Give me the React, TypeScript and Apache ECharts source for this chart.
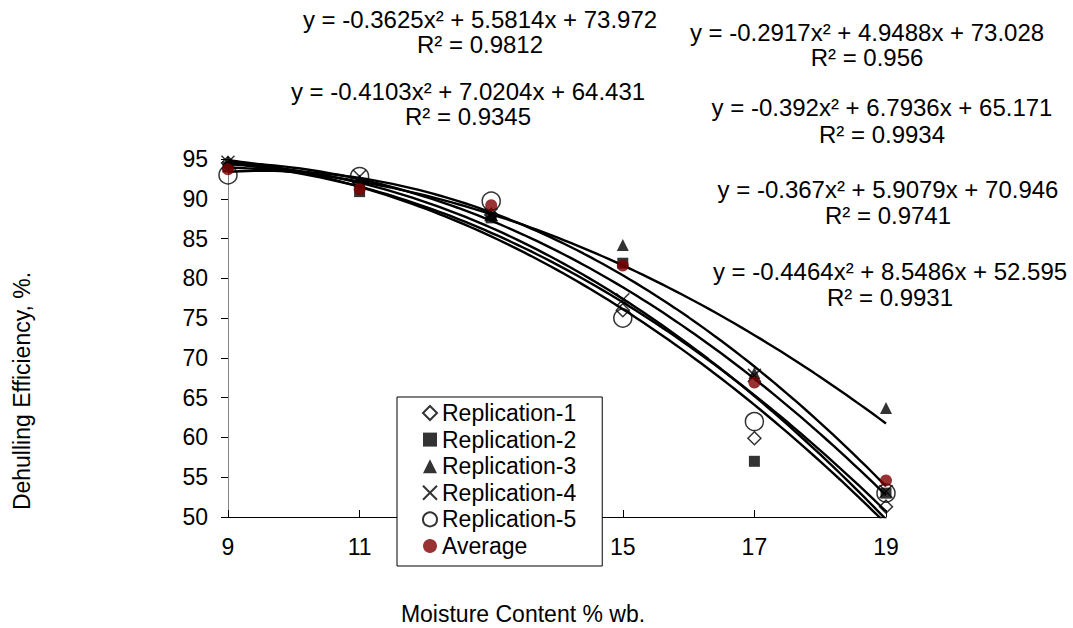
import React, { useEffect, useRef } from "react";
import * as echarts from "echarts";

// ---- Data ----
const X_VALUES = [9, 11, 13, 15, 17, 19];
const REPLICATION_1 = [94.5, 92.0, 88.0, 76.0, 59.9, 51.3];
const REPLICATION_2 = [94.0, 90.9, 87.6, 81.9, 57.0, 53.0];
const REPLICATION_3 = [94.7, 92.3, 88.0, 84.2, 68.1, 63.7];
const REPLICATION_4 = [94.6, 92.8, 88.0, 77.3, 67.8, 53.2];
const REPLICATION_5 = [93.0, 92.8, 89.7, 75.0, 62.0, 53.0];
const AVERAGE = [93.7, 91.2, 89.2, 81.6, 66.9, 54.6];

const SERIES_NAMES = ["Replication-1", "Replication-2", "Replication-3", "Replication-4", "Replication-5", "Average"];

// Quadratic trendline coefficients [a, b, c] : y = a x^2 + b x + c
const TREND_1 = [-0.3625, 5.5814, 73.972];
const TREND_2 = [-0.2917, 4.9488, 73.028];
const TREND_3 = [-0.4103, 7.0204, 64.431];
const TREND_4 = [-0.392, 6.7936, 65.171];
const TREND_5 = [-0.367, 5.9079, 70.946];
const TREND_6 = [-0.4464, 8.5486, 52.595];
const TRENDS = [TREND_1, TREND_2, TREND_3, TREND_4, TREND_5, TREND_6];
const R_SQUARED = ["0.9812", "0.956", "0.9345", "0.9934", "0.9741", "0.9931"];

const X_TICKS = [9, 11, 13, 15, 17, 19];
// "13" is hidden behind the legend box in the reference
const X_TICK_LABELS = [9, 11, 15, 17, 19];
const Y_MIN = 50;
const Y_MAX = 95;
const Y_STEP = 5;

// ---- Layout (label positions) ----
const EQ_POS = [
  [480, 19, 44],
  [867, 32, 57],
  [468, 91, 116],
  [882, 107, 134],
  [888, 189, 215],
  [890, 271, 297],
];

const FONT = "'Liberation Sans', Arial, sans-serif";
const X_PATH = "path://M0,0L10,10M10,0L0,10";

function trendPoints(coef: number[]) {
  const pts: number[][] = [];
  const [a, b, c] = coef;
  const x0 = X_VALUES[0];
  const x1 = X_VALUES[X_VALUES.length - 1];
  const n = 100;
  for (let i = 0; i <= n; i++) {
    const x = x0 + ((x1 - x0) * i) / n;
    pts.push([x, a * x * x + b * x + c]);
  }
  return pts;
}

function eqText(coef: number[]) {
  const [a, b, c] = coef;
  return `y = ${a}x² + ${b}x + ${c}`;
}

export default function App() {
  const ref = useRef<HTMLDivElement>(null);
  useEffect(() => {
    if (!ref.current) return;
    const chart = echarts.init(ref.current, null, { renderer: "svg" });
    const pair = (arr: number[]) => X_VALUES.map((x, i) => [x, arr[i]]);

    const hollow = { color: "rgba(0,0,0,0)", borderColor: "#000", borderWidth: 1.5 };
    const scatterDefs = [
      { data: REPLICATION_1, symbol: "diamond", symbolSize: 13, itemStyle: hollow },
      { data: REPLICATION_2, symbol: "rect", symbolSize: 11, itemStyle: { color: "#000" } },
      { data: REPLICATION_3, symbol: "triangle", symbolSize: 12, itemStyle: { color: "#000" } },
      { data: REPLICATION_4, symbol: X_PATH, symbolSize: 13, itemStyle: hollow },
      { data: REPLICATION_5, symbol: "circle", symbolSize: 18, itemStyle: hollow },
      { data: AVERAGE, symbol: "circle", symbolSize: 12, itemStyle: { color: "#800000" } },
    ];

    const trendSeries = TRENDS.map((coef, i) => ({
      name: `trend-${i + 1}`,
      type: "line",
      data: trendPoints(coef),
      showSymbol: false,
      symbol: "none",
      silent: true,
      lineStyle: { color: "#000", width: 2.4 },
      z: 2,
    }));

    const scatterSeries = scatterDefs.map((d, i) => ({
      name: SERIES_NAMES[i],
      type: "scatter",
      data: pair(d.data),
      symbol: d.symbol,
      symbolSize: d.symbolSize,
      itemStyle: d.itemStyle,
      z: 3,
    }));

    const graphics: any[] = [];
    TRENDS.forEach((coef, i) => {
      const [cx, y1, y2] = EQ_POS[i];
      graphics.push({
        type: "text",
        x: cx,
        y: y1,
        style: { text: eqText(coef), fill: "#000", font: `24px ${FONT}`, align: "center", verticalAlign: "middle" },
      });
      graphics.push({
        type: "text",
        x: cx,
        y: y2,
        style: { text: `R² = ${R_SQUARED[i]}`, fill: "#000", font: `24px ${FONT}`, align: "center", verticalAlign: "middle" },
      });
    });
    graphics.push({
      type: "text",
      x: 22,
      y: 391,
      rotation: Math.PI / 2,
      style: { text: "Dehulling Efficiency, %.", fill: "#000", font: `23px ${FONT}`, align: "center", verticalAlign: "middle" },
    });
    graphics.push({
      type: "text",
      x: 523,
      y: 614,
      style: { text: "Moisture Content % wb.", fill: "#000", font: `23px ${FONT}`, align: "center", verticalAlign: "middle" },
    });

    chart.setOption({
      animation: false,
      backgroundColor: "#fff",
      grid: { left: 228, right: 187, top: 159, bottom: 111, containLabel: false },
      xAxis: {
        type: "value",
        min: X_TICKS[0],
        max: X_TICKS[X_TICKS.length - 1],
        axisLine: { show: true, lineStyle: { color: "#000", width: 1 } },
        axisTick: { show: true, inside: true, length: 7, customValues: X_TICKS, lineStyle: { color: "#000" } },
        axisLabel: { customValues: X_TICK_LABELS, fontSize: 23, fontFamily: FONT, color: "#000", margin: 18 },
        splitLine: { show: false },
      },
      yAxis: {
        type: "value",
        min: Y_MIN,
        max: Y_MAX,
        interval: Y_STEP,
        axisLine: { show: true, lineStyle: { color: "#868686", width: 1 } },
        axisTick: { show: true, inside: false, length: 7, lineStyle: { color: "#000" } },
        axisLabel: { fontSize: 23, fontFamily: FONT, color: "#000", margin: 20 },
        splitLine: { show: false },
      },
      legend: {
        orient: "vertical",
        left: 397,
        top: 397,
        padding: [3, 26, 7, 25],
        itemWidth: 14,
        itemHeight: 14,
        itemGap: 0.6,
        backgroundColor: "#fff",
        borderColor: "#000",
        borderWidth: 1,
        borderRadius: 0,
        textStyle: { fontSize: 23, fontFamily: FONT, color: "#000", lineHeight: 26 },
        data: SERIES_NAMES,
      },
      graphic: graphics,
      series: [...trendSeries, ...scatterSeries],
    });
    return () => chart.dispose();
  }, []);
  return <div ref={ref} style={{ position: "fixed", left: 0, top: 0, width: 1073, height: 628 }} />;
}
